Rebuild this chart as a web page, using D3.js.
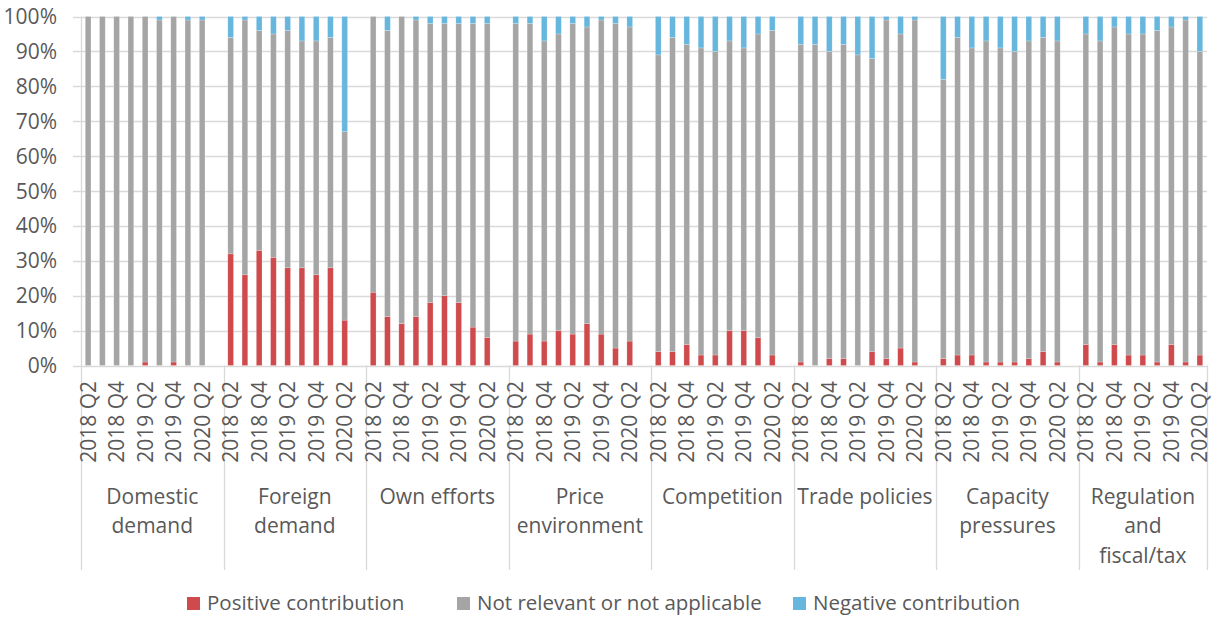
<!DOCTYPE html>
<html>
<head>
<meta charset="utf-8">
<script src="https://cdn.jsdelivr.net/npm/d3@7"></script>
<style>
  body { margin: 0; background: #fff; }
  text { font-family: "Open Sans", "Noto Sans", sans-serif; fill: #595959; }
</style>
</head>
<body>
<svg id="chart" width="1215" height="617"></svg>
<script>
const categories = [
  ["Domestic", "demand"],
  ["Foreign", "demand"],
  ["Own efforts"],
  ["Price", "environment"],
  ["Competition"],
  ["Trade policies"],
  ["Capacity", "pressures"],
  ["Regulation", "and", "fiscal/tax"],
];
const quarters = [
  "2018 Q2", "2018 Q3", "2018 Q4", "2019 Q1", "2019 Q2",
  "2019 Q3", "2019 Q4", "2020 Q1", "2020 Q2",
];
// one row per category, one value per quarter (percent of respondents)
const positive = [
  [0, 0, 0, 0, 1, 0, 1, 0, 0],
  [32, 26, 33, 31, 28, 28, 26, 28, 13],
  [21, 14, 12, 14, 18, 20, 18, 11, 8],
  [7, 9, 7, 10, 9, 12, 9, 5, 7],
  [4, 4, 6, 3, 3, 10, 10, 8, 3],
  [1, 0, 2, 2, 0, 4, 2, 5, 1],
  [2, 3, 3, 1, 1, 1, 2, 4, 1],
  [6, 1, 6, 3, 3, 1, 6, 1, 3],
];
const notRelevant = [
  [100, 100, 100, 100, 99, 99, 99, 99, 99],
  [62, 73, 63, 64, 68, 65, 67, 66, 54],
  [79, 82, 88, 85, 80, 78, 80, 87, 90],
  [91, 89, 86, 85, 89, 85, 90, 93, 90],
  [85, 90, 86, 88, 87, 83, 81, 87, 93],
  [91, 92, 88, 90, 89, 84, 97, 90, 98],
  [80, 91, 88, 92, 90, 89, 91, 90, 92],
  [89, 92, 91, 92, 92, 95, 91, 98, 87],
];
const negative = [
  [0, 0, 0, 0, 0, 1, 0, 1, 1],
  [6, 1, 4, 5, 4, 7, 7, 6, 33],
  [0, 4, 0, 1, 2, 2, 2, 2, 2],
  [2, 2, 7, 5, 2, 3, 1, 2, 3],
  [11, 6, 8, 9, 10, 7, 9, 5, 4],
  [8, 8, 10, 8, 11, 12, 1, 5, 1],
  [18, 6, 9, 7, 9, 10, 7, 6, 7],
  [5, 7, 3, 5, 5, 4, 3, 1, 10],
];
const seriesNames = ["Positive contribution", "Not relevant or not applicable", "Negative contribution"];
const yTicks = [0, 0.1, 0.2, 0.3, 0.4, 0.5, 0.6, 0.7, 0.8, 0.9, 1];

const colors = ["#cf4a4c", "#a5a5a5", "#66b6de"];
const gridColor = "#d9d9d9";
const fontSize = 21;

const svg = d3.select("#chart");
const plotLeft = 81, plotRight = 1207, plotTop = 16.5, plotBottom = 365.5;

// slot keys: 9 quarters per category, an empty slot between categories
const slots = [];
categories.forEach((c, gi) => {
  quarters.forEach((q, qi) => slots.push(gi + "|" + qi));
  if (gi < categories.length - 1) slots.push(gi + "|gap");
});

const x = d3.scaleBand().domain(slots).range([plotLeft, plotRight])
  .paddingInner(0.6).paddingOuter(0.3);
const y = d3.scaleLinear().domain([0, 1]).range([plotBottom, plotTop]);

// gridlines
svg.append("g")
  .selectAll("line")
  .data(yTicks)
  .join("line")
  .attr("x1", plotLeft - 8)
  .attr("x2", plotRight)
  .attr("y1", (d) => Math.round(y(d)) + 0.5)
  .attr("y2", (d) => Math.round(y(d)) + 0.5)
  .attr("stroke", gridColor)
  .attr("stroke-width", 1.3);

// y labels
svg.append("g")
  .selectAll("text")
  .data(yTicks)
  .join("text")
  .attr("x", 57)
  .attr("y", (d) => y(d))
  .attr("dy", "0.36em")
  .attr("text-anchor", "end")
  .attr("font-size", fontSize)
  .text(d3.format(".0%"));

// flatten into rows
const rows = [];
categories.forEach((c, gi) => {
  quarters.forEach((q, qi) => {
    rows.push({
      key: gi + "|" + qi,
      qi,
      values: [positive[gi][qi], notRelevant[gi][qi], negative[gi][qi]],
    });
  });
});

const stackGroup = svg.append("g");
rows.forEach((r) => {
  const total = d3.sum(r.values);
  let acc = 0;
  r.values.forEach((v, si) => {
    if (v <= 0) return;
    const y0 = acc / total, y1 = (acc + v) / total;
    acc += v;
    stackGroup.append("rect")
      .attr("x", x(r.key))
      .attr("width", x.bandwidth())
      .attr("y", y(y1))
      .attr("height", y(y0) - y(y1))
      .attr("fill", colors[si])
      .attr("stroke", "#ffffff")
      .attr("stroke-opacity", 0.35)
      .attr("stroke-width", 0.6);
  });
});

// vertical axis line
svg.append("line")
  .attr("x1", plotLeft + 0.5).attr("x2", plotLeft + 0.5)
  .attr("y1", plotTop).attr("y2", plotBottom)
  .attr("stroke", gridColor).attr("stroke-width", 1.3);

// group separators below the axis, at the start of each category's first slot
const sepX = categories.map((c, gi) => x(gi + "|0") - (x.step() - x.bandwidth()) / 2);
sepX.push(plotRight);
svg.append("g")
  .selectAll("line")
  .data(sepX)
  .join("line")
  .attr("x1", (d) => Math.round(d) + 0.5)
  .attr("x2", (d) => Math.round(d) + 0.5)
  .attr("y1", plotBottom)
  .attr("y2", 570)
  .attr("stroke", gridColor)
  .attr("stroke-width", 1.3);

// quarter tick labels (every other one shown)
svg.append("g")
  .selectAll("text")
  .data(rows.filter((r) => r.qi % 2 === 0))
  .join("text")
  .attr("transform", (d) => `translate(${x(d.key) + x.bandwidth() / 2},381) rotate(-90)`)
  .attr("dy", "0.36em")
  .attr("text-anchor", "end")
  .attr("font-size", fontSize)
  .text((d) => quarters[d.qi]);

// category labels
const catGroup = svg.append("g");
categories.forEach((lines, gi) => {
  const cx = (sepX[gi] + sepX[gi + 1]) / 2;
  lines.forEach((line, li) => {
    catGroup.append("text")
      .attr("x", cx)
      .attr("y", 496 + li * 29.5)
      .attr("dy", "0.36em")
      .attr("text-anchor", "middle")
      .attr("font-size", fontSize)
      .text(line);
  });
});

// legend
const legendX = [187, 457, 793];
const legend = svg.append("g")
  .selectAll("g")
  .data(seriesNames)
  .join("g")
  .attr("transform", (d, i) => `translate(${legendX[i]},597)`);
legend.append("rect")
  .attr("width", 13).attr("height", 13)
  .attr("fill", (d, i) => colors[i]);
legend.append("text")
  .attr("x", 20)
  .attr("y", 6.5)
  .attr("dy", "0.34em")
  .attr("font-size", 20.5)
  .text((d) => d);
</script>
</body>
</html>
